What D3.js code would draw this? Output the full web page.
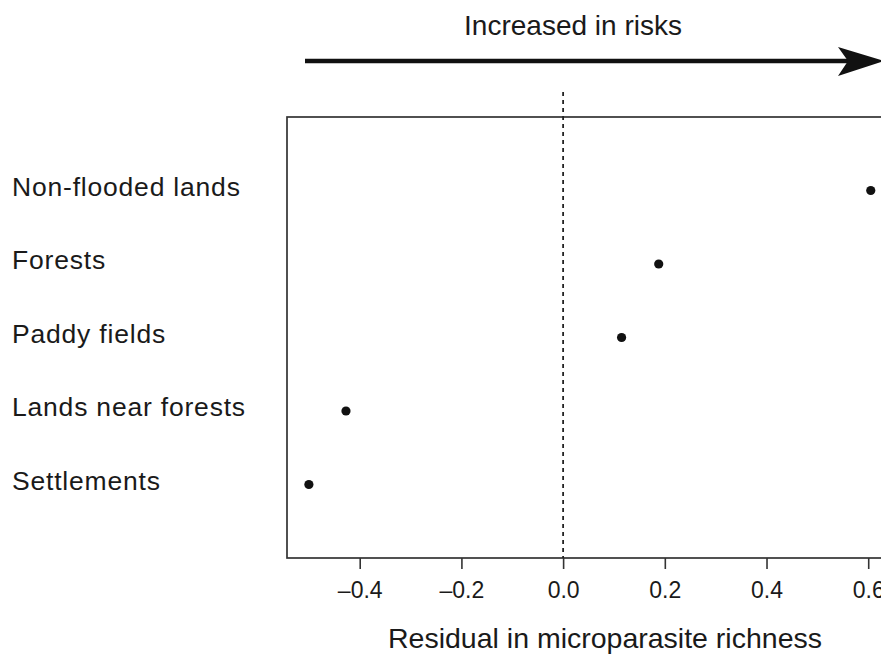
<!DOCTYPE html>
<html>
<head>
<meta charset="utf-8">
<script src="https://cdn.jsdelivr.net/npm/d3@7"></script>
<style>
  body { margin: 0; background: #fff; }
  svg text { font-family: "Liberation Sans", Arial, sans-serif; fill: #1a1a1a; }
</style>
</head>
<body>
<svg id="chart" width="881" height="659"></svg>
<script>
// land use categories, top to bottom
const categories = ['Non-flooded lands', 'Forests', 'Paddy fields', 'Lands near forests', 'Settlements'];
// residual in microparasite richness
const residuals = [0.605, 0.188, 0.115, -0.427, -0.5];
const xTicks = [-0.4, -0.2, 0.0, 0.2, 0.4, 0.6];

const svg = d3.select('#chart');
const box = { left: 287, top: 117, bottom: 558 };

const x = d3.scaleLinear()
    .domain([-0.543, 0.7])
    .range([box.left, box.left + 1.243 * 508.5]);

const y = d3.scalePoint()
    .domain(categories)
    .range([box.top, box.bottom])
    .padding(1);

const data = categories.map((c, i) => ({ cat: c, val: residuals[i] }));

// plot frame
svg.append('rect')
    .attr('x', box.left)
    .attr('y', box.top)
    .attr('width', x.range()[1] - box.left)
    .attr('height', box.bottom - box.top)
    .attr('fill', 'none')
    .attr('stroke', '#333')
    .attr('stroke-width', 1.7);

// zero reference line
svg.append('line')
    .attr('x1', x(0)).attr('x2', x(0))
    .attr('y1', 92).attr('y2', box.bottom)
    .attr('stroke', '#222')
    .attr('stroke-width', 1.8)
    .attr('stroke-dasharray', '4,4');

// x axis
const xAxis = d3.axisBottom(x)
    .tickValues(xTicks)
    .tickSize(11)
    .tickSizeOuter(0)
    .tickFormat(d => d3.format('.1f')(d).replace('−', '–'));

const gx = svg.append('g')
    .attr('transform', `translate(0,${box.bottom})`)
    .call(xAxis);
gx.select('.domain').remove();
gx.selectAll('.tick line').attr('stroke', '#333').attr('stroke-width', 1.6);
gx.selectAll('.tick text')
    .attr('y', 40)
    .attr('dy', null)
    .attr('font-size', 23)
    .attr('font-family', '"Liberation Sans", Arial, sans-serif')
    .attr('fill', '#1a1a1a');

svg.append('text')
    .attr('x', 605)
    .attr('y', 648)
    .attr('text-anchor', 'middle')
    .attr('font-size', 28.5)
    .text('Residual in microparasite richness');

// category labels
svg.append('g')
    .selectAll('text')
    .data(categories)
    .join('text')
    .attr('x', 12)
    .attr('y', d => y(d) + 5)
    .attr('font-size', 26.5)
    .attr('letter-spacing', 0.8)
    .text(d => d);

// points
svg.append('g')
    .selectAll('circle')
    .data(data)
    .join('circle')
    .attr('cx', d => x(d.val))
    .attr('cy', d => y(d.cat))
    .attr('r', 4.6)
    .attr('fill', '#111');

// risk arrow
svg.append('text')
    .attr('x', 573)
    .attr('y', 35)
    .attr('text-anchor', 'middle')
    .attr('font-size', 28)
    .text('Increased in risks');

svg.append('line')
    .attr('x1', 305).attr('x2', 850)
    .attr('y1', 61).attr('y2', 61)
    .attr('stroke', '#111')
    .attr('stroke-width', 4.5);

svg.append('path')
    .attr('d', 'M838,47 L884,61 L838,76 L848,61 Z')
    .attr('fill', '#111');
</script>
</body>
</html>
